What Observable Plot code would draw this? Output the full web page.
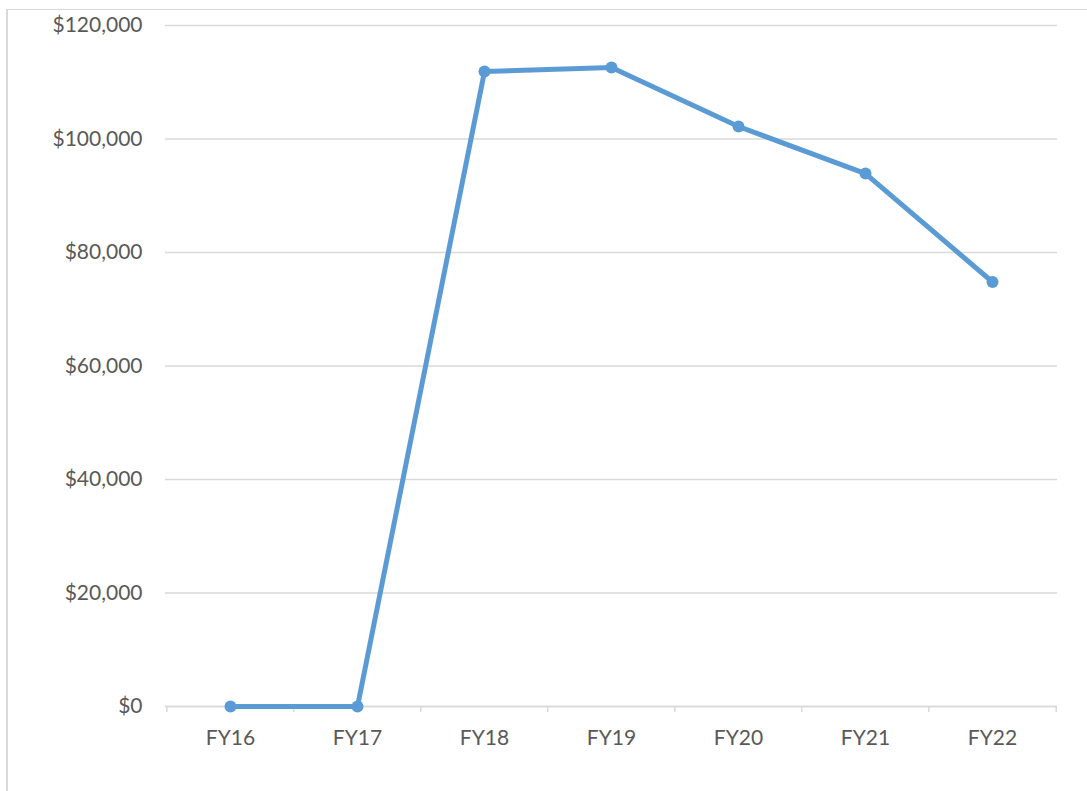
<!DOCTYPE html>
<html>
<head>
<meta charset="utf-8">
<script src="https://cdn.jsdelivr.net/npm/d3@7"></script>
<script src="https://cdn.jsdelivr.net/npm/@observablehq/plot@0.6"></script>
<style>
  html, body { margin: 0; padding: 0; background: #fff; }
  #wrap { position: relative; width: 1087px; height: 791px; overflow: hidden; }
  #frame { position: absolute; left: 6px; top: 9px; right: -2px; bottom: -2px;
           border-top: 1px solid #d9d9d9; border-left: 2px solid #d9d9d9; }
  #chart { position: absolute; left: 0; top: 0; }
</style>
</head>
<body>
<div id="wrap"><div id="frame"></div><div id="chart"></div></div>
<script>
const categories = ["FY16", "FY17", "FY18", "FY19", "FY20", "FY21", "FY22"];
const values = [0, 0, 111900, 112600, 102200, 93900, 74800];
const yTicks = [0, 20000, 40000, 60000, 80000, 100000, 120000];

const data = categories.map((c, i) => ({category: c, value: values[i]}));

const width = 1087, height = 791;
const marginLeft = 165, marginRight = 30, marginTop = 25, marginBottom = 85;
const step = (width - marginLeft - marginRight) / categories.length;
const gridColor = "#d9d9d9";
const textColor = "#595959";
const lineColor = "#5b9bd5";

const chart = Plot.plot({
  width, height, marginLeft, marginRight, marginTop, marginBottom,
  style: {fontFamily: "Lato, 'Open Sans', sans-serif", fontSize: "21px", color: textColor, background: "transparent"},
  x: {type: "point", domain: categories, padding: 0.5, label: null},
  y: {domain: [0, 120000], label: null},
  marks: [
    Plot.gridY(yTicks, {stroke: gridColor, strokeOpacity: 1, strokeWidth: 1.5}),
    Plot.ruleY([0], {stroke: gridColor, strokeWidth: 1.5}),
    Plot.ruleX(categories, {x: d => d, y1: 0, y2: 0, dx: -step / 2, insetBottom: -6, stroke: gridColor, strokeWidth: 1.5}),
    Plot.ruleX([categories[categories.length - 1]], {x: d => d, y1: 0, y2: 0, dx: step / 2, insetBottom: -6, stroke: gridColor, strokeWidth: 1.5}),
    Plot.axisY(yTicks, {tickSize: 0, tickPadding: 23, tickFormat: d3.format("$,"), fill: textColor, fontSize: 21}),
    Plot.axisX({tickSize: 0, tickPadding: 24, fill: textColor, fontSize: 21}),
    Plot.line(data, {x: "category", y: "value", stroke: lineColor, strokeWidth: 5, strokeLinejoin: "round", strokeLinecap: "round"}),
    Plot.dot(data, {x: "category", y: "value", r: 6, fill: lineColor, stroke: null})
  ]
});
document.getElementById("chart").appendChild(chart);
</script>
</body>
</html>
